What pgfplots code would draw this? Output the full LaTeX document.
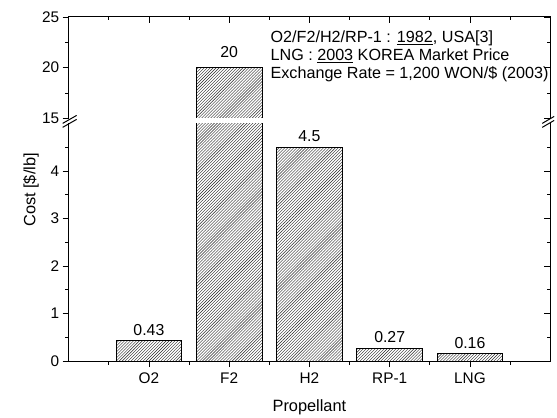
\documentclass[border=0pt]{standalone}
\usepackage{fontspec}
\setmainfont{Liberation Sans}
\usepackage{pgfplots}
\pgfplotsset{compat=1.18}
\usetikzlibrary{patterns}

\pgfplotsset{
  brk/.style={
    scale only axis, width=484bp, xmin=0, xmax=6,
    axis line style={draw=none},
    tick style={black, line width=0.8pt},
    major tick length=6bp, minor tick length=3.5bp,
    tick align=outside,
    ybar, bar width=0.82, bar shift=0pt,
    /pgf/number format/assume math mode=true,
    tick label style={font=\fontsize{15.5}{15.5}\selectfont},
    xtick={1,...,5}, minor xtick={0.5,1.5,...,5.5},
  },
  bars/.style={draw=black, line width=1pt, pattern=north east lines, pattern color=black!85},
  lbl/.style={nodes near coords, nodes near coords style={font=\fontsize{16}{16}\selectfont, black, yshift=1.5bp}},
}

\begin{document}
\begin{tikzpicture}
% lower segment 0..5
\begin{axis}[brk, name=low, height=239bp, ymin=0, ymax=5,
  ytick={0,...,4}, minor ytick={0.5,1,...,4.5},
  xticklabels={O2,F2,H2,RP-1,LNG}, xtick pos=bottom, ytick pos=left,
  xticklabel style={yshift=-2bp},
  xlabel={Propellant}, ylabel={Cost [\$/lb]},
  label style={font=\fontsize{16.5}{16.5}\selectfont},
  xlabel style={yshift=-9bp},
  ylabel style={at={(ticklabel cs:0.72)}, yshift=5bp},
  after end axis/.code={
    \draw[line width=1pt] (rel axis cs:0,1) -- (rel axis cs:0,0) -- (rel axis cs:1,0) -- (rel axis cs:1,1);
  }]
\addplot[bars] coordinates {(2,20)};
\addplot[bars, lbl] coordinates {(1,0.43) (3,4.5) (4,0.27) (5,0.16)};
\end{axis}
\begin{axis}[brk, height=239bp, ymin=0, ymax=5,
  ytick={0,...,4}, minor ytick={0.5,1,...,4.5},
  xtick=\empty, minor xtick=\empty, ytick pos=right, tick align=inside,
  yticklabels={}]
\end{axis}
% upper segment 15..25
\begin{axis}[brk, name=up, at={(0,244bp)}, height=102bp, ymin=15, ymax=25,
  ytick={15,20,25}, minor ytick={17.5,22.5},
  xtick=\empty, minor xtick=\empty, ytick pos=left,
  after end axis/.code={
    \fill[white] ([yshift=-4bp]rel axis cs:0.1,0) rectangle ([yshift=0.8bp]rel axis cs:0.9,0);
    \draw[line width=1pt] (rel axis cs:0,0) -- (rel axis cs:0,1) -- (rel axis cs:1,1) -- (rel axis cs:1,0);
    \draw[line width=1pt] ([xshift=-6bp,yshift=-5bp]rel axis cs:0,0) -- ([xshift=8bp,yshift=3bp]rel axis cs:0,0);
    \draw[line width=1pt] ([xshift=-6bp,yshift=-9bp]rel axis cs:0,0) -- ([xshift=8bp,yshift=-1bp]rel axis cs:0,0);
    \draw[line width=1pt] ([xshift=-8bp,yshift=-5bp]rel axis cs:1,0) -- ([xshift=4bp,yshift=2bp]rel axis cs:1,0);
    \draw[line width=1pt] ([xshift=-8bp,yshift=-9bp]rel axis cs:1,0) -- ([xshift=4bp,yshift=-2bp]rel axis cs:1,0);
    \node[anchor=north west, align=left, inner sep=0pt, font=\fontsize{16.3}{18}\selectfont]
      at (rel axis cs:0.419,0.865)
      {O2/F2/H2/RP-1 : \underline{1982}, USA[3]\\
       LNG : \underline{2003} KOREA Market Price\\
       Exchange Rate = 1,200 WON/\$ (2003)};
  }]
\addplot[bars, lbl, nodes near coords style={yshift=5bp}] coordinates {(2,20)};
\end{axis}
\begin{axis}[brk, at={(0,244bp)}, height=102bp, ymin=15, ymax=25,
  ytick={15,20,25}, minor ytick={17.5,22.5},
  xtick pos=top, ytick pos=right, tick align=inside,
  xticklabels={}, yticklabels={}]
\end{axis}
\path (-69bp,-53bp) rectangle (488bp,363bp);
\end{tikzpicture}
\end{document}
